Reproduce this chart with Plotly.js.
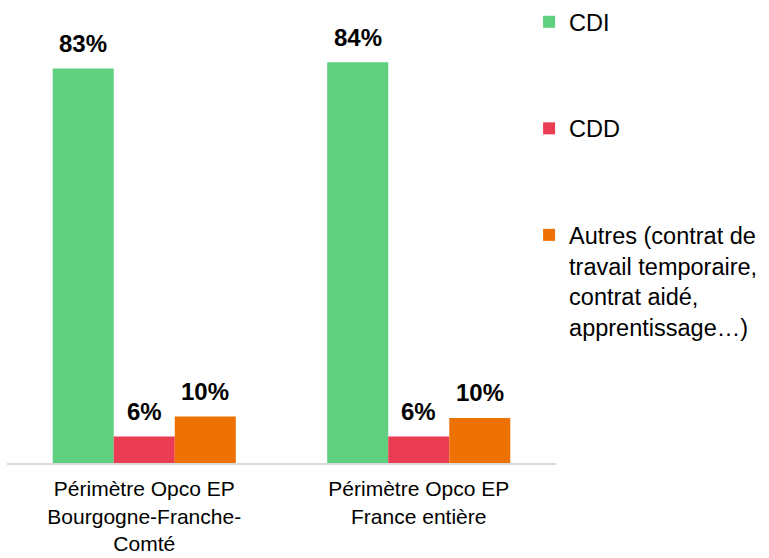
<!DOCTYPE html>
<html>
<head>
<meta charset="utf-8">
<script src="https://cdn.plot.ly/plotly-3.0.1.min.js"></script>
<style>html,body{margin:0;padding:0;background:#fff;}#chart{width:769px;height:558px;}</style>
</head>
<body>
<div id="chart"></div>
<script>
var categories = ["Périmètre Opco EP<br>Bourgogne-Franche-<br>Comté", "Périmètre Opco EP<br>France entière"];
var seriesNames = ["CDI", "CDD", "Autres (contrat de<br>travail temporaire,<br>contrat aidé,<br>apprentissage…)"];
var cdi = [83.1, 84.4];
var cdd = [5.6, 5.6];
var autres = [9.8, 9.5];
var colors = ["#5FCF80", "#EA3C53", "#EE7203"];

var series = [cdi, cdd, autres];
var bargap = 0.333;
var nSeries = series.length;
var barW = (1 - bargap) / nSeries;
var xIdx = categories.map(function(_, i){ return i; });

var traces = series.map(function(vals, s){
  return {
    type: "bar",
    x: xIdx,
    y: vals,
    name: seriesNames[s],
    legendgroup: "g" + s,
    marker: {color: colors[s], line: {width: 0}},
    hoverinfo: "skip"
  };
});

var annotations = [];
series.forEach(function(vals, s){
  vals.forEach(function(v, i){
    annotations.push({
      xref: "x", yref: "y",
      x: i + (s - (nSeries - 1) / 2) * barW,
      y: v,
      yshift: 25,
      yanchor: "middle",
      xanchor: "center",
      showarrow: false,
      text: "<b>" + Math.round(v) + "%</b>",
      font: {family: "Liberation Sans, Arial, sans-serif", size: 24, color: "#000"}
    });
  });
});

var layout = {
  width: 769, height: 558,
  paper_bgcolor: "#fff", plot_bgcolor: "#fff",
  margin: {l: 7, r: 213, t: 0, b: 95, autoexpand: false},
  barmode: "group",
  bargap: bargap,
  bargroupgap: 0,
  font: {family: "Liberation Sans, Arial, sans-serif", color: "#000"},
  xaxis: {
    type: "linear",
    range: [-0.5, 1.5],
    tickmode: "array",
    tickvals: xIdx,
    ticktext: categories,
    showgrid: false, zeroline: false,
    showline: true, linecolor: "#D9D9D9", linewidth: 2,
    ticks: "",
    ticklabelstandoff: 6,
    tickfont: {size: 21, color: "#000"},
    automargin: false,
    fixedrange: true
  },
  yaxis: {
    range: [0, 97.5],
    visible: false,
    showgrid: false, zeroline: false,
    fixedrange: true
  },
  showlegend: true,
  legend: {
    xref: "container", yref: "container",
    x: 0.688, y: 1, xanchor: "left", yanchor: "top",
    traceorder: "grouped",
    tracegroupgap: 73,
    valign: "top",
    maxheight: 1,
    font: {size: 23.5, color: "#000"},
    bgcolor: "rgba(0,0,0,0)"
  },
  annotations: annotations
};

Plotly.newPlot("chart", traces, layout, {displayModeBar: false, staticPlot: true});
</script>
</body>
</html>
